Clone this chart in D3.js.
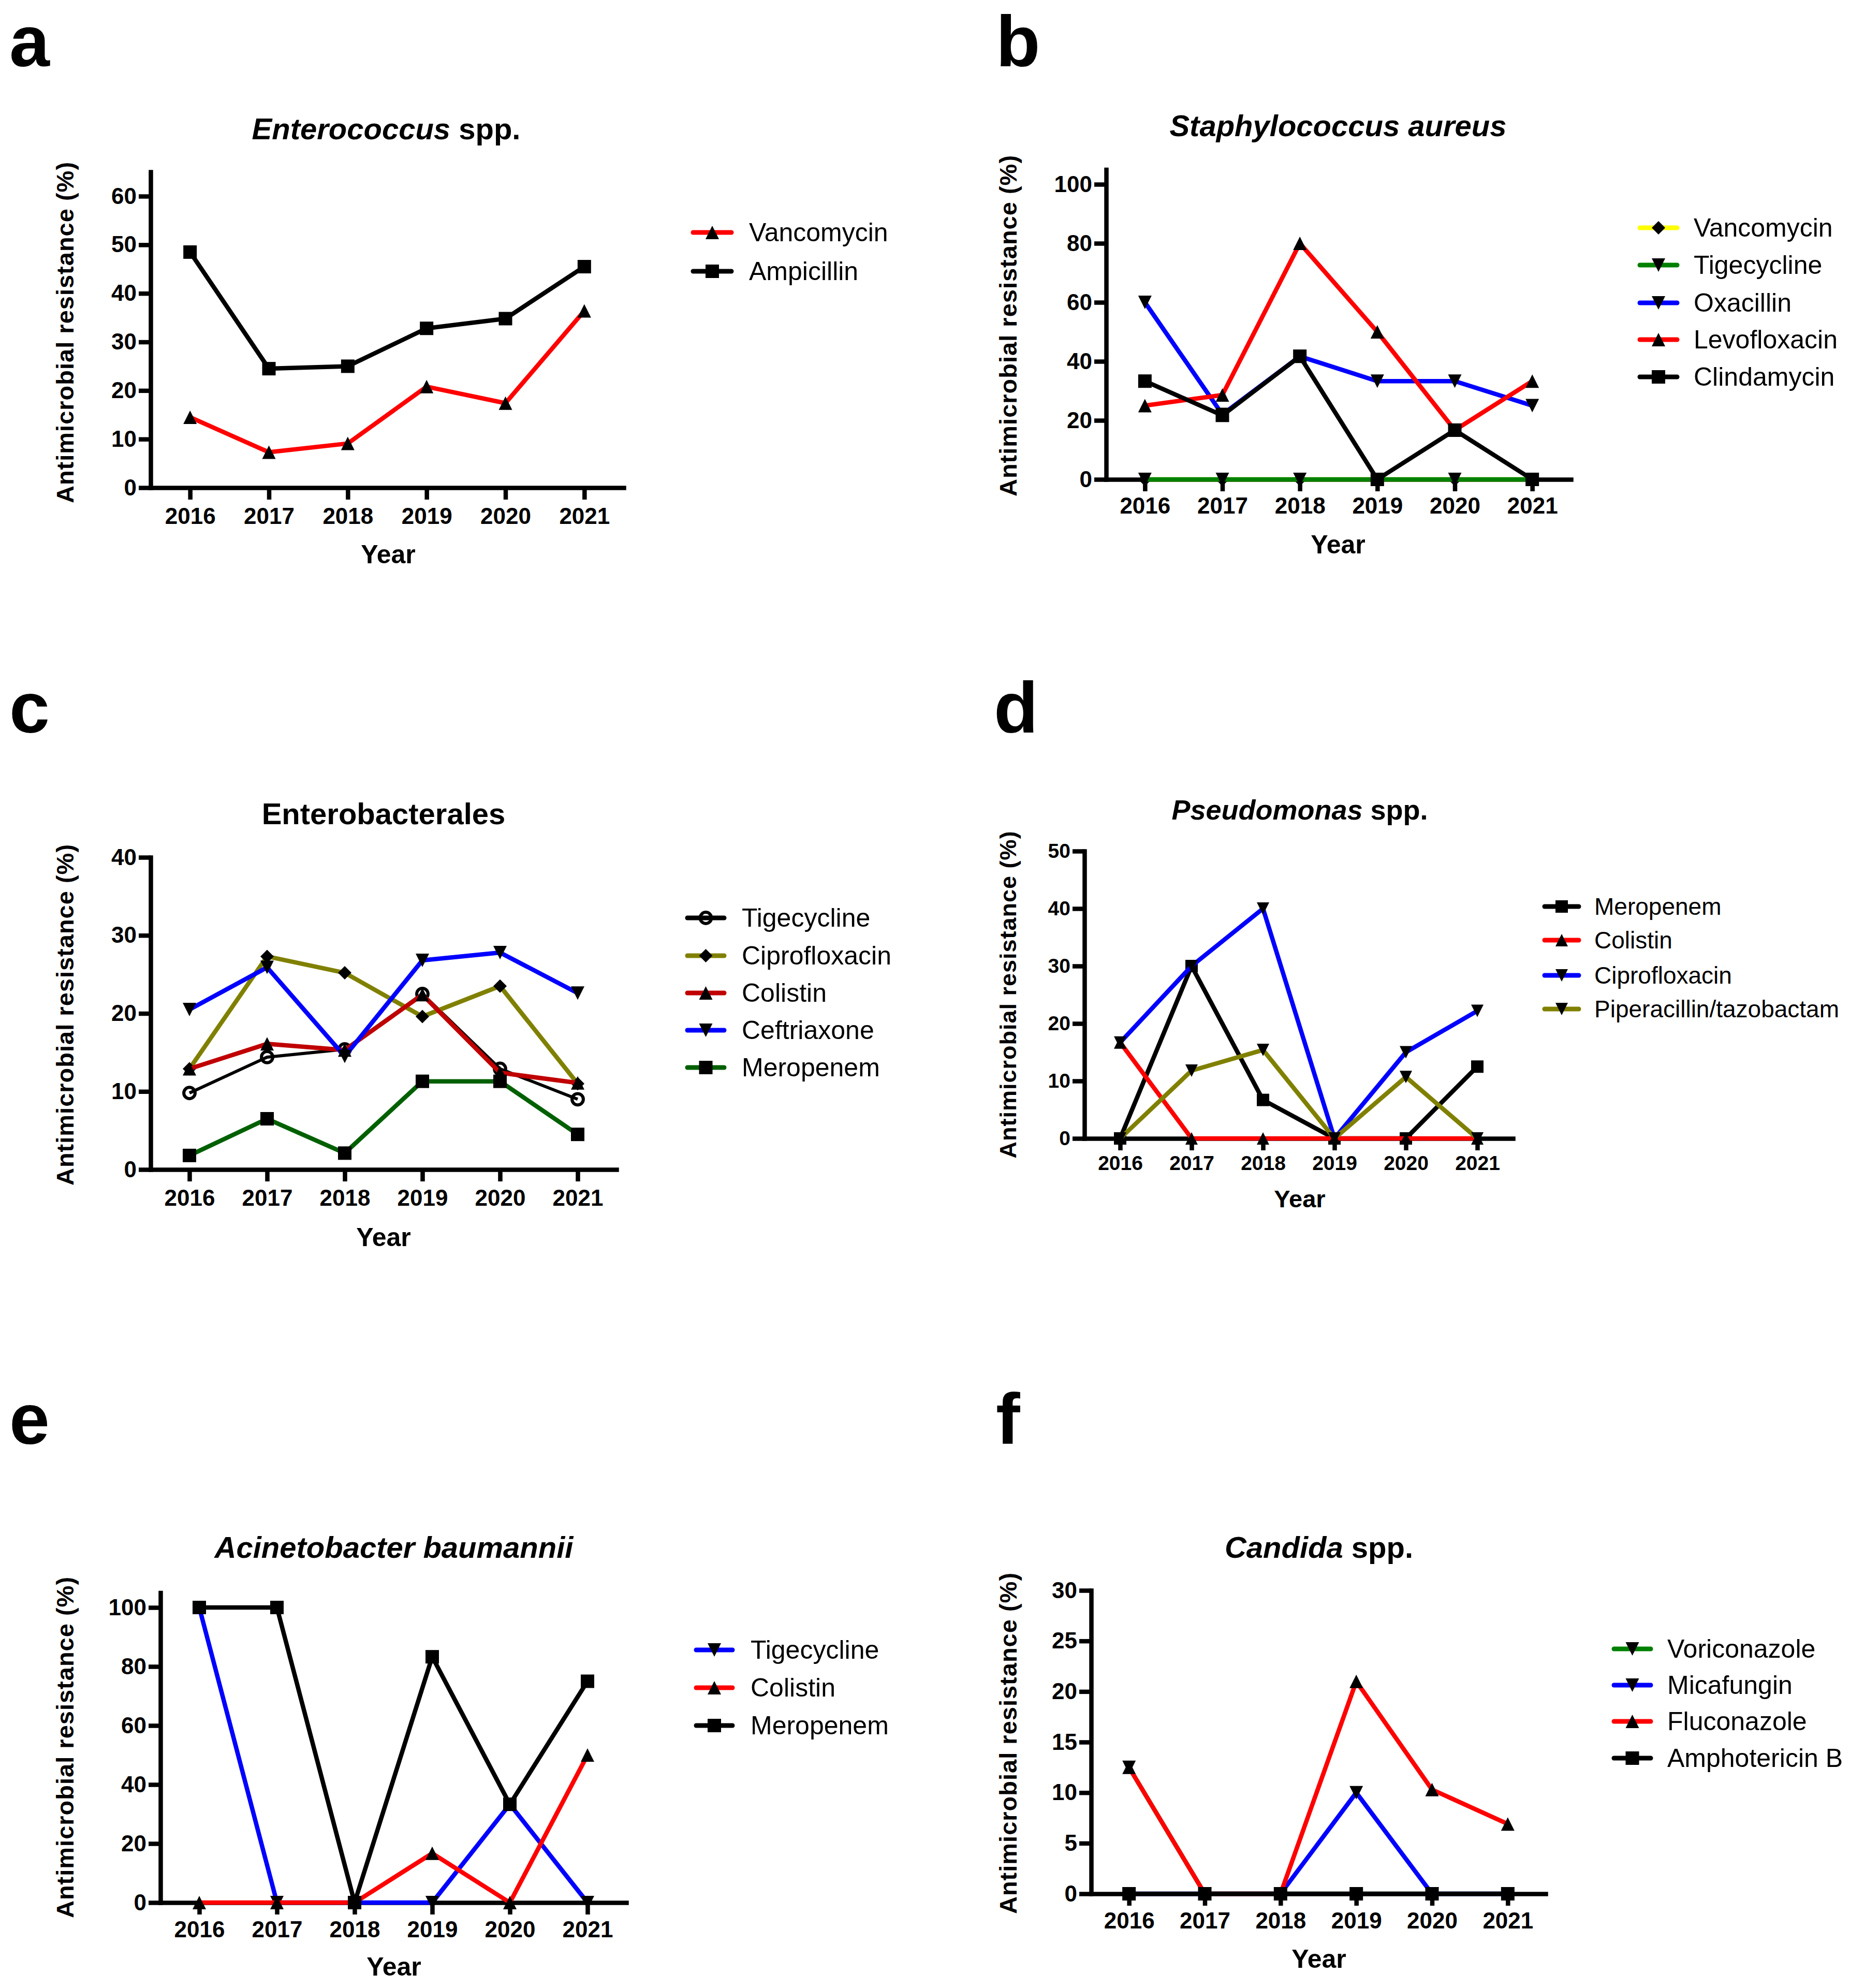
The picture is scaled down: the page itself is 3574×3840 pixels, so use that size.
<!DOCTYPE html>
<html>
<head>
<meta charset="utf-8">
<script src="https://cdn.jsdelivr.net/npm/d3@7"></script>
<style>
  body { margin: 0; background: #fff; }
  text { font-family: "Liberation Sans", Arial, sans-serif; }
</style>
</head>
<body>
<script>
// years shared by every panel
const years = [2016, 2017, 2018, 2019, 2020, 2021];

// a - Enterococcus spp.
const entVancomycin = [14.5, 7.3, 9.1, 20.8, 17.4, 36.4];
const entAmpicillin = [48.5, 24.5, 25.0, 32.8, 34.8, 45.5];

// b - Staphylococcus aureus
const staVancomycin = [0, 0, 0, 0, 0, 0];
const staTigecycline = [0, 0, 0, 0, 0, 0];
const staOxacillin = [60, 22, 41.7, 33.3, 33.3, 25];
const staLevofloxacin = [25, 28.6, 80, 50, 16.7, 33.3];
const staClindamycin = [33.3, 21.7, 41.7, 0, 16.7, 0];

// c - Enterobacterales
const ebTigecycline = [9.8, 14.4, 15.4, 22.5, 12.9, 9.0];
const ebCiprofloxacin = [12.9, 27.3, 25.2, 19.6, 23.5, 11.0];
const ebColistin = [12.9, 16.1, 15.3, 22.4, 12.4, 11.1];
const ebCeftriaxone = [20.5, 25.9, 14.5, 26.8, 27.8, 22.6];
const ebMeropenem = [1.8, 6.5, 2.1, 11.3, 11.3, 4.5];

// d - Pseudomonas spp.
const psMeropenem = [0, 30, 6.7, 0, 0, 12.5];
const psColistin = [16.7, 0, 0, 0, 0, 0];
const psCiprofloxacin = [16.7, 30, 40, 0, 15.0, 22.2];
const psPipTazo = [0, 11.8, 15.4, 0, 10.7, 0];

// e - Acinetobacter baumannii
const acTigecycline = [100, 0, 0, 0, 33.3, 0];
const acColistin = [0, 0, 0, 16.7, 0, 50];
const acMeropenem = [100, 100, 0, 83.3, 33.3, 75];

// f - Candida spp.
const caVoriconazole = [12.5, 0, 0, 0, 0, 0];
const caMicafungin = [0, 0, 0, 10, 0, 0];
const caFluconazole = [12.5, 0, 0, 21.0, 10.3, 6.9];
const caAmphotericin = [0, 0, 0, 0, 0, 0];

const svg = d3.select('body').append('svg')
  .attr('width', 3574).attr('height', 3840)
  .attr('viewBox', '0 0 3574 3840');
svg.append('rect').attr('width', 3574).attr('height', 3840).attr('fill', '#fff');

const RED = '#ff0000', BLACK = '#000000', BLUE = '#0000ff', GREEN = '#008000',
      YELLOW = '#ffff00', OLIVE = '#808000', DARKRED = '#c00000', DARKGREEN = '#006000';

// marker path around (0,0)
let markerPath = (type, s) => {
  let h = s / 2;
  if (type === 'up') return `M0,${-h}L${h},${h}L${-h},${h}Z`;
  if (type === 'down') return `M0,${h}L${h},${-h}L${-h},${-h}Z`;
  if (type === 'square') return `M${-h},${-h}H${h}V${h}H${-h}Z`;
  if (type === 'diamond') return `M0,${-h}L${h},0L0,${h}L${-h},0Z`;
  return null;
};

let drawMarker = (g, type, cx, cy, s) => {
  if (type === 'circle') {
    g.append('circle').attr('cx', cx).attr('cy', cy).attr('r', s * 0.42)
      .attr('fill', 'none').attr('stroke', '#000').attr('stroke-width', 6);
  } else {
    g.append('path').attr('d', markerPath(type, s))
      .attr('transform', `translate(${cx},${cy})`).attr('fill', '#000');
  }
};

let drawPanel = (p) => {
  const g = svg.append('g');
  const tick = p.tickFont || 44;
  // top of y axis from a reference tick
  const topY = p.baseY - (p.baseY - p.refY) * p.yTop / p.refVal;

  const x = d3.scalePoint().domain(years).range([p.axisX, p.right]).padding(0.5);
  const y = d3.scaleLinear().domain([0, p.yTop]).range([p.baseY, topY]);

  const yAxis = g.append('g').attr('transform', `translate(${p.axisX},0)`)
    .call(d3.axisLeft(y).tickValues(p.ticks).tickSize(23).tickSizeOuter(0).tickPadding(4));
  const xAxis = g.append('g').attr('transform', `translate(0,${p.baseY})`)
    .call(d3.axisBottom(x).tickSize(23).tickSizeOuter(0).tickPadding(p.xPad || 14));

  [yAxis, xAxis].forEach(ax => {
    ax.select('.domain').attr('stroke', '#000').attr('stroke-width', 8.5).attr('stroke-linecap', 'square');
    ax.selectAll('.tick line').attr('stroke', '#000').attr('stroke-width', 8.5);
    ax.selectAll('.tick text').attr('fill', '#000').style('font-size', tick + 'px')
      .style('font-weight', 'bold').style('font-family', '"Liberation Sans", Arial, sans-serif');
  });

  // series, later ones on top
  p.series.forEach(s => {
    const sg = g.append('g');
    const line = d3.line().x((d, i) => x(years[i])).y(d => y(d));
    sg.append('path').datum(s.values).attr('d', line)
      .attr('fill', 'none').attr('stroke', s.color)
      .attr('stroke-width', s.width || 8.5).attr('stroke-linejoin', 'round');
    s.values.forEach((v, i) => drawMarker(sg, s.marker, x(years[i]), y(v), p.markerSize || 26));
  });

  // legend
  const lg = g.append('g');
  p.series.forEach((s, i) => {
    const ly = p.legend.rows[i];
    lg.append('line').attr('x1', p.legend.x1).attr('x2', p.legend.x2)
      .attr('y1', ly).attr('y2', ly).attr('stroke', s.color)
      .attr('stroke-width', 9).attr('stroke-linecap', 'round');
    drawMarker(lg, s.marker, (p.legend.x1 + p.legend.x2) / 2, ly, p.markerSize || 26);
    lg.append('text').attr('x', p.legend.tx).attr('y', ly)
      .attr('dominant-baseline', 'central')
      .style('font-size', (p.legendFont || 50) + 'px').text(s.name);
  });

  // title
  const t = g.append('text').attr('x', p.title.x).attr('y', p.title.y)
    .attr('text-anchor', 'middle').attr('dominant-baseline', 'central')
    .style('font-size', (p.titleFont || 58) + 'px').style('font-weight', 'bold');
  p.title.parts.forEach(part => {
    t.append('tspan').style('font-style', part.italic ? 'italic' : 'normal').text(part.text);
  });

  // axis titles
  g.append('text').attr('x', p.year.x).attr('y', p.year.y)
    .attr('text-anchor', 'middle').attr('dominant-baseline', 'central')
    .style('font-size', (p.yearFont || 50) + 'px').style('font-weight', 'bold').text('Year');

  g.append('text')
    .attr('transform', `translate(${p.ylab.x},${p.ylab.y}) rotate(-90)`)
    .attr('text-anchor', 'middle').attr('dominant-baseline', 'central')
    .style('font-size', (p.ylabFont || 47) + 'px').style('font-weight', 'bold')
    .style('letter-spacing', '1px')
    .text('Antimicrobial resistance (%)');

  // panel letter
  g.append('text').attr('x', p.letter.x).attr('y', p.letter.y)
    .style('font-size', '140px').style('font-weight', 'bold').text(p.letter.text);
};

drawPanel({
  axisX: 291, right: 1205, baseY: 942, refY: 379, refVal: 60, yTop: 65,
  ticks: [0, 10, 20, 30, 40, 50, 60], xPad: 16,
  series: [
    { name: 'Vancomycin', values: entVancomycin, color: RED, marker: 'up' },
    { name: 'Ampicillin', values: entAmpicillin, color: BLACK, marker: 'square' }
  ],
  legend: { x1: 1339, x2: 1413, tx: 1447, rows: [449, 524] },
  title: { x: 746, y: 248, parts: [{ text: 'Enterococcus', italic: true }, { text: ' spp.' }] },
  year: { x: 750, y: 1071 },
  ylab: { x: 125, y: 642 },
  letter: { x: 18, y: 128, text: 'a' }
});

drawPanel({
  axisX: 2137, right: 3035, baseY: 926, refY: 356, refVal: 100, yTop: 105,
  ticks: [0, 20, 40, 60, 80, 100], xPad: 12,
  series: [
    { name: 'Vancomycin', values: staVancomycin, color: YELLOW, marker: 'diamond' },
    { name: 'Tigecycline', values: staTigecycline, color: GREEN, marker: 'down' },
    { name: 'Oxacillin', values: staOxacillin, color: BLUE, marker: 'down' },
    { name: 'Levofloxacin', values: staLevofloxacin, color: RED, marker: 'up' },
    { name: 'Clindamycin', values: staClindamycin, color: BLACK, marker: 'square' }
  ],
  legend: { x1: 3168, x2: 3240, tx: 3272, rows: [440, 512, 585, 656, 728] },
  title: { x: 2585, y: 242, parts: [{ text: 'Staphylococcus aureus', italic: true }] },
  year: { x: 2585, y: 1052 },
  ylab: { x: 1947, y: 629 },
  letter: { x: 1924, y: 128, text: 'b' }
});

drawPanel({
  axisX: 291, right: 1191, baseY: 2259, refY: 1656, refVal: 40, yTop: 40,
  ticks: [0, 10, 20, 30, 40], xPad: 16,
  series: [
    { name: 'Tigecycline', values: ebTigecycline, color: BLACK, marker: 'circle', width: 6 },
    { name: 'Ciprofloxacin', values: ebCiprofloxacin, color: OLIVE, marker: 'diamond' },
    { name: 'Colistin', values: ebColistin, color: DARKRED, marker: 'up' },
    { name: 'Ceftriaxone', values: ebCeftriaxone, color: BLUE, marker: 'down' },
    { name: 'Meropenem', values: ebMeropenem, color: DARKGREEN, marker: 'square' }
  ],
  legend: { x1: 1328, x2: 1399, tx: 1433, rows: [1773, 1846, 1918, 1990, 2062] },
  title: { x: 741, y: 1571, parts: [{ text: 'Enterobacterales' }] },
  year: { x: 741, y: 2390 },
  ylab: { x: 125, y: 1960 },
  letter: { x: 18, y: 1415, text: 'c' }
});

drawPanel({
  axisX: 2095, right: 2923, baseY: 2199, refY: 1644, refVal: 50, yTop: 50,
  ticks: [0, 10, 20, 30, 40, 50], xPad: 10, tickFont: 39,
  legendFont: 46, titleFont: 54, yearFont: 47, ylabFont: 45, markerSize: 24,
  series: [
    { name: 'Meropenem', values: psMeropenem, color: BLACK, marker: 'square' },
    { name: 'Colistin', values: psColistin, color: RED, marker: 'up' },
    { name: 'Ciprofloxacin', values: psCiprofloxacin, color: BLUE, marker: 'down' },
    { name: 'Piperacillin/tazobactam', values: psPipTazo, color: OLIVE, marker: 'down' }
  ],
  legend: { x1: 2984, x2: 3050, tx: 3080, rows: [1751, 1816, 1884, 1949] },
  title: { x: 2511, y: 1564, parts: [{ text: 'Pseudomonas', italic: true }, { text: ' spp.' }] },
  year: { x: 2511, y: 2315 },
  ylab: { x: 1947, y: 1921 },
  letter: { x: 1920, y: 1415, text: 'd' }
});

drawPanel({
  axisX: 310, right: 1210, baseY: 3675, refY: 3105, refVal: 100, yTop: 105,
  ticks: [0, 20, 40, 60, 80, 100], xPad: 13,
  series: [
    { name: 'Tigecycline', values: acTigecycline, color: BLUE, marker: 'down' },
    { name: 'Colistin', values: acColistin, color: RED, marker: 'up' },
    { name: 'Meropenem', values: acMeropenem, color: BLACK, marker: 'square' }
  ],
  legend: { x1: 1345, x2: 1415, tx: 1450, rows: [3187, 3260, 3333] },
  title: { x: 761, y: 2988, parts: [{ text: 'Acinetobacter baumannii', italic: true }] },
  year: { x: 761, y: 3799 },
  ylab: { x: 125, y: 3375 },
  letter: { x: 18, y: 2789, text: 'e' }
});

drawPanel({
  axisX: 2108, right: 2986, baseY: 3658, refY: 3072, refVal: 30, yTop: 30,
  ticks: [0, 5, 10, 15, 20, 25, 30], xPad: 13,
  series: [
    { name: 'Voriconazole', values: caVoriconazole, color: GREEN, marker: 'down' },
    { name: 'Micafungin', values: caMicafungin, color: BLUE, marker: 'down' },
    { name: 'Fluconazole', values: caFluconazole, color: RED, marker: 'up' },
    { name: 'Amphotericin B', values: caAmphotericin, color: BLACK, marker: 'square' }
  ],
  legend: { x1: 3118, x2: 3189, tx: 3221, rows: [3185, 3255, 3325, 3396] },
  title: { x: 2548, y: 2988, parts: [{ text: 'Candida', italic: true }, { text: ' spp.' }] },
  year: { x: 2548, y: 3784 },
  ylab: { x: 1947, y: 3367 },
  letter: { x: 1924, y: 2789, text: 'f' }
});
</script>
</body>
</html>
